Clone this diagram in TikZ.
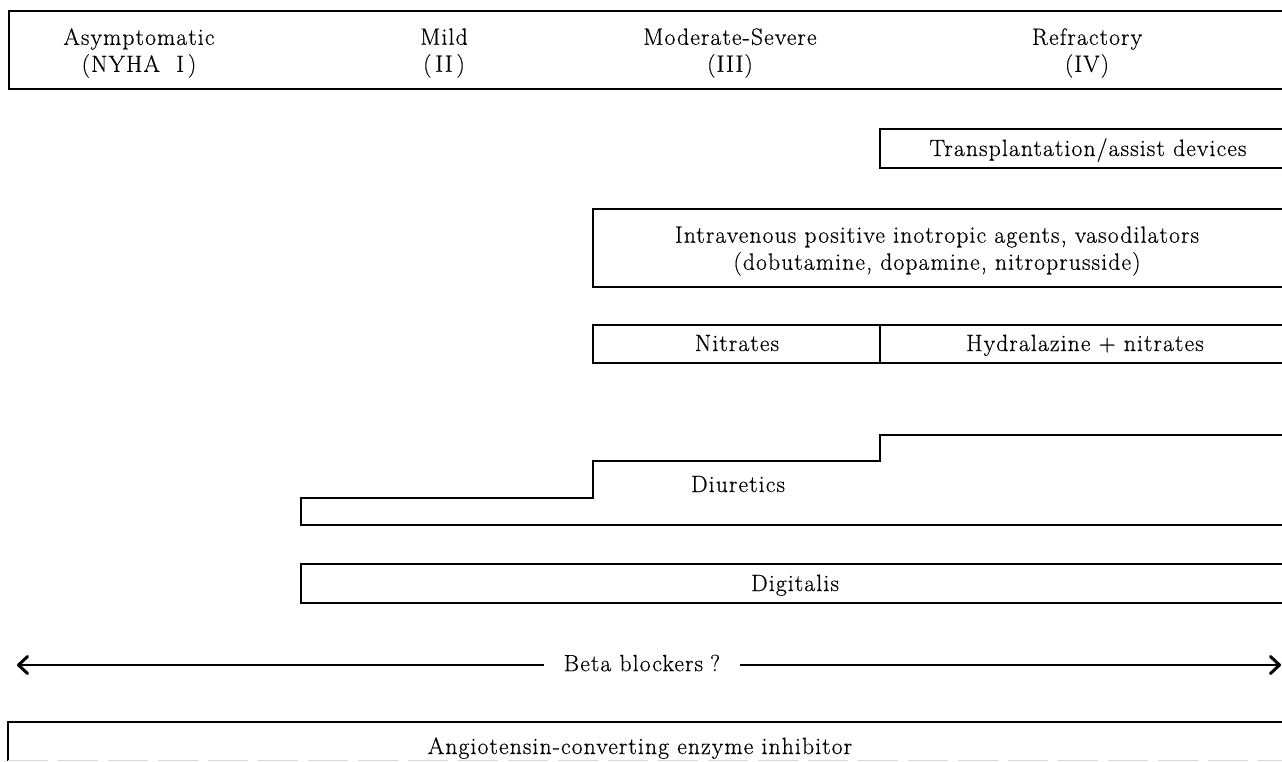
\documentclass[tikz,border=0pt]{standalone}
\usepackage{fontspec}
\setmainfont{Latin Modern Roman}[LetterSpace=5,FakeBold=0.5]
\usetikzlibrary{arrows.meta}
\begin{document}
\begin{tikzpicture}[x=1pt,y=-1pt,
  ln/.style={line width=1.9pt,line join=miter},
  lbl/.style={font=\fontsize{23.5}{27}\selectfont,inner sep=0pt,align=center},
  barb/.style={line width=1.9pt,-{Straight Barb[length=9pt,width=17pt,line width=3pt,round]}}]
\useasboundingbox (0,0) rectangle (1282,761);
\fill[white] (0,0) rectangle (1282,761);
% header
\draw[ln] (1283,11) -- (9,11) -- (9,89) -- (1283,89);
\node[lbl] (asy) at (139,53) {Asymptomatic\\(NYHA\ \ I\,)};
\node[lbl] (mild) at (444,53) {Mild\\(\,II\,)};
\node[lbl] (mod) at (730,53) {Moderate-Severe\\(III)};
\node[lbl] (ref) at (1087,53) {Refractory\\(IV)};
% transplantation
\draw[ln] (1283,129) -- (880,129) -- (880,168) -- (1283,168);
\node[lbl,anchor=base] (tra) at (1088,156) {Transplantation/assist devices};
% intravenous
\draw[ln] (1283,209) -- (593,209) -- (593,287) -- (1283,287);
\node[lbl] (iv) at (937,251) {Intravenous positive inotropic agents, vasodilators\\(dobutamine, dopamine, nitroprusside)};
% nitrates
\draw[ln] (1283,325) -- (593,325) -- (593,363) -- (1283,363);
\draw[ln] (880,325) -- (880,363);
\node[lbl,anchor=base] (nit) at (737,351) {Nitrates};
\node[lbl,anchor=base] (hyd) at (1085,351) {Hydralazine + nitrates};
% diuretics
\draw[ln] (1283,435) -- (880,435) -- (880,461) -- (593,461) -- (593,498) -- (301,498) -- (301,525) -- (1283,525);
\node[lbl,anchor=base] (diu) at (738,492) {Diuretics};
% digitalis
\draw[ln] (1283,564) -- (301,564) -- (301,603) -- (1283,603);
\node[lbl,anchor=base] (dig) at (795,591) {Digitalis};
% beta blockers
\node[lbl,inner xsep=20pt] (bb) at (642,663) {Beta blockers\hspace{7pt}?};
\coordinate (bl) at (17,665);
\coordinate (br) at (1281,665);
\draw[barb] (bb.west |- bl) -- (bl);
\draw[barb] (bb.east |- br) -- (br);
% ACE
\draw[ln] (1283,722) -- (8,722) -- (8,761);
\draw[gray!30,line width=0.8pt,dash pattern=on 40pt off 10pt] (8,760.2) -- (1283,760.2);
\node[lbl,anchor=base] (ace) at (640,754) {Angiotensin-converting enzyme inhibitor};
\end{tikzpicture}
\end{document}
